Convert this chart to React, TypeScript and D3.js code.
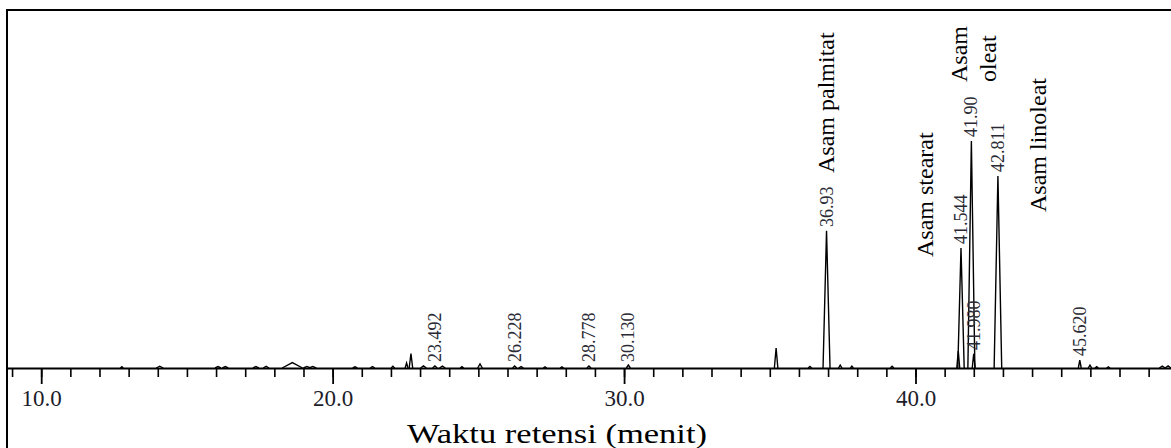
import React from 'react';
import * as d3 from 'd3';

const width = 1171;
const height = 448;

// every peak of the trace: retention time (min), height (% of tallest), half base width (min)
const peakTimes = [12.75, 14.05, 16.05, 16.3, 17.35, 17.7, 18.6, 19.1, 19.3, 20.75, 21.35, 22.05, 22.52, 22.67, 23.1, 23.492, 23.75, 24.42, 25.04, 26.228, 26.45, 27.27, 27.85, 28.778, 30.13, 35.2, 36.36, 36.93, 37.4, 37.8, 39.18, 41.45, 41.544, 41.9, 41.98, 42.811, 45.62, 45.97, 46.2, 46.6, 48.45, 48.65];
const peakHeights = [0.6, 0.8, 0.6, 0.6, 0.6, 0.7, 2.4, 0.7, 0.7, 0.5, 0.6, 0.8, 2.2, 6.4, 0.9, 0.9, 0.8, 0.6, 1.8, 0.9, 0.6, 0.5, 0.5, 0.9, 1.3, 8.8, 0.7, 60.4, 1.3, 0.8, 0.8, 7.5, 52.9, 100, 6.2, 84.6, 3.5, 1.3, 0.6, 0.5, 0.8, 0.9];
const peakWidths = [0.05, 0.12, 0.1, 0.1, 0.1, 0.1, 0.35, 0.12, 0.12, 0.08, 0.08, 0.06, 0.05, 0.06, 0.1, 0.08, 0.1, 0.06, 0.08, 0.07, 0.08, 0.06, 0.06, 0.07, 0.07, 0.06, 0.06, 0.12, 0.06, 0.05, 0.06, 0.05, 0.11, 0.12, 0.05, 0.13, 0.05, 0.06, 0.06, 0.06, 0.1, 0.1];

// retention time labels written above the peaks
const labelTimes = [23.492, 26.228, 28.778, 30.13, 36.93, 41.544, 41.9, 41.98, 42.811, 45.62];
const labelTexts = ['23.492', '26.228', '28.778', '30.130', '36.93', '41.544', '41.90', '41.980', '42.811', '45.620'];
const labelHeights = [0.9, 0.9, 0.9, 0.9, 60.4, 52.9, 100, 6.2, 84.6, 3.5];

// compound names
const compoundLines = [['Asam palmitat'], ['Asam stearat'], ['Asam', 'oleat'], ['Asam linoleat']];
const compoundTimes = [37.2, 40.6, 41.75, 44.45];
const compoundBottoms = [173, 257, 82, 212];

const majorTicks = [10, 20, 30, 40];
const minorTicks = d3.range(9, 49);
const axisTitle = 'Waktu retensi (menit)';

const font = '"Liberation Serif", "Times New Roman", serif';

const App = () => {
  const x = d3.scaleLinear().domain([10, 40]).range([41.7, 916]);
  const y = d3.scaleLinear().domain([0, 100]).range([368, 141]);
  const axisY = 368.5;

  const line = d3.line<[number, number]>()
    .x(d => x(d[0]))
    .y(d => y(d[1]))
    .curve(d3.curveLinear);

  return (
    <svg width={width} height={height} style={{ position: 'absolute', left: 0, top: 0, background: '#fff' }}>
      <rect x={7} y={10} width={1300} height={600} fill="none" stroke="#000" strokeWidth={2} />

      {/* baseline / axis */}
      <line x1={7} x2={width} y1={axisY} y2={axisY} stroke="#000" strokeWidth={2} />
      {minorTicks.map(t => (
        <line key={'m' + t} x1={x(t)} x2={x(t)} y1={axisY} y2={377} stroke="#000" strokeWidth={1.6} />
      ))}
      {majorTicks.map(t => (
        <g key={'M' + t}>
          <line x1={x(t)} x2={x(t)} y1={axisY} y2={384} stroke="#000" strokeWidth={1.8} />
          <text x={x(t)} y={406} textAnchor="middle" fontFamily={font} fontSize={23} fill="#1c1c2a">
            {d3.format('.1f')(t)}
          </text>
        </g>
      ))}

      {/* peaks */}
      {peakTimes.map((t, i) => (
        <path
          key={'p' + i}
          d={line([[t - peakWidths[i], 0], [t, peakHeights[i]], [t + peakWidths[i], 0]]) || ''}
          fill="none"
          stroke="#000"
          strokeWidth={1.4}
          strokeLinejoin="miter"
        />
      ))}

      {/* retention time labels */}
      {labelTimes.map((t, i) => (
        <text
          key={'l' + i}
          transform={`translate(${x(t) + 6},${y(labelHeights[i]) - 4}) rotate(-90)`}
          fontFamily={font}
          fontSize={18}
          fill="#2a2a35"
        >
          {labelTexts[i]}
        </text>
      ))}

      {/* compound names */}
      {compoundLines.map((lines, i) =>
        lines.map((s, j) => (
          <text
            key={'c' + i + j}
            transform={`translate(${x(compoundTimes[i]) + j * 29},${compoundBottoms[i]}) rotate(-90)`}
            fontFamily={font}
            fontSize={24}
            fill="#000"
          >
            {s}
          </text>
        ))
      )}

      <text
        x={557}
        y={443}
        textAnchor="middle"
        fontFamily={font}
        fontSize={27}
        textLength={300}
        lengthAdjust="spacingAndGlyphs"
        fill="#000"
      >
        {axisTitle}
      </text>
    </svg>
  );
};

export default App;
